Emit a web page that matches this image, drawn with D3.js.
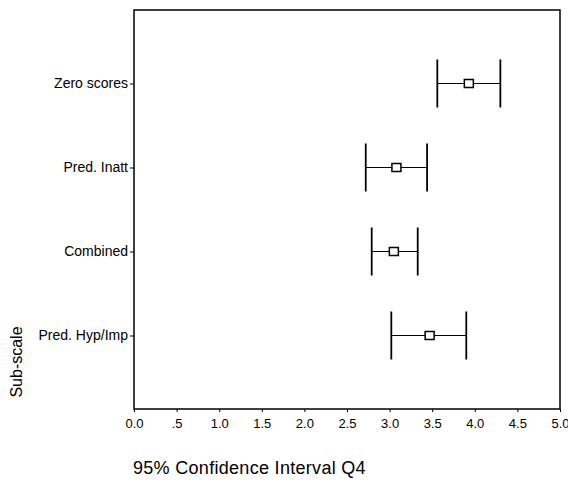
<!DOCTYPE html>
<html>
<head>
<meta charset="utf-8">
<script src="https://cdn.jsdelivr.net/npm/d3@7"></script>
<style>
  body { margin: 0; background: #fff; }
  svg text { font-family: "Liberation Sans", Arial, sans-serif; fill: #000; }
</style>
</head>
<body>
<svg class="chart"></svg>
<script>
// Data.
var categories = ["Zero scores", "Pred. Inatt", "Combined", "Pred. Hyp/Imp"];
var lower = [3.56, 2.72, 2.79, 3.02];
var mean = [3.93, 3.08, 3.05, 3.47];
var upper = [4.30, 3.44, 3.33, 3.90];
var xTicks = [0, 0.5, 1, 1.5, 2, 2.5, 3, 3.5, 4, 4.5, 5];

var width = 568,
    height = 480;

// Plot box.
var margin = { top: 10, right: 8, bottom: 71, left: 134 };

var svg = d3.select(".chart")
    .attr("width", width)
    .attr("height", height);

var x = d3.scaleLinear()
    .domain([0, 5])
    .range([margin.left, width - margin.right]);

var y = d3.scalePoint()
    .domain(categories)
    .range([margin.top, height - margin.bottom])
    .padding(0.875);

// Frame round the plot.
svg.append("rect")
    .attr("x", margin.left)
    .attr("y", margin.top)
    .attr("width", width - margin.right - margin.left)
    .attr("height", height - margin.bottom - margin.top)
    .attr("fill", "none")
    .attr("stroke", "#000")
    .attr("stroke-width", 1.5);

// x axis.
var xAxis = svg.append("g")
    .attr("transform", "translate(0," + (height - margin.bottom) + ")")
    .call(d3.axisBottom(x)
        .tickValues(xTicks)
        .tickSize(3)
        .tickPadding(7)
        .tickFormat(function (d) {
            return d === 0.5 ? ".5" : d3.format(".1f")(d);
        }));
xAxis.select(".domain").remove();
xAxis.selectAll("line").attr("stroke", "#000");
xAxis.selectAll("text").style("font-size", "13px");

// y axis.
var yAxis = svg.append("g")
    .attr("transform", "translate(" + margin.left + ",0)")
    .call(d3.axisLeft(y).tickSize(4).tickPadding(2));
yAxis.select(".domain").remove();
yAxis.selectAll("line").attr("stroke", "#000");
yAxis.selectAll("text").style("font-size", "14px");

// Error bars.
var rows = categories.map(function (c, i) {
    return { name: c, lo: lower[i], m: mean[i], hi: upper[i] };
});

var bars = svg.selectAll(".ci")
    .data(rows)
    .enter()
    .append("g")
    .attr("class", "ci");

bars.append("line")
    .attr("x1", function (d) { return x(d.lo); })
    .attr("x2", function (d) { return x(d.hi); })
    .attr("y1", function (d) { return y(d.name); })
    .attr("y2", function (d) { return y(d.name); })
    .attr("stroke", "#000")
    .attr("stroke-width", 1);

["lo", "hi"].forEach(function (k) {
    bars.append("line")
        .attr("x1", function (d) { return x(d[k]); })
        .attr("x2", function (d) { return x(d[k]); })
        .attr("y1", function (d) { return y(d.name) - 24; })
        .attr("y2", function (d) { return y(d.name) + 24; })
        .attr("stroke", "#000")
        .attr("stroke-width", 1.8);
});

bars.append("rect")
    .attr("x", function (d) { return x(d.m) - 4.5; })
    .attr("y", function (d) { return y(d.name) - 4; })
    .attr("width", 9)
    .attr("height", 8)
    .attr("fill", "#fff")
    .attr("stroke", "#000")
    .attr("stroke-width", 1.5);

// Axis titles.
svg.append("text")
    .attr("x", 133)
    .attr("y", 474)
    .style("font-size", "18px")
    .style("letter-spacing", "0.3px")
    .text("95% Confidence Interval Q4");

svg.append("text")
    .attr("transform", "translate(22,362) rotate(-90)")
    .attr("text-anchor", "middle")
    .style("font-size", "16px")
    .text("Sub-scale");
</script>
</body>
</html>
